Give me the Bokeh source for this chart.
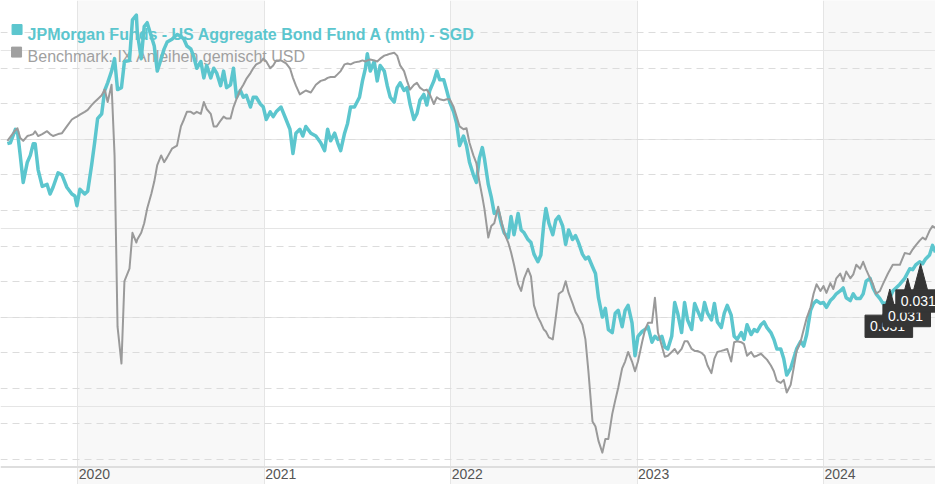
from bokeh.plotting import figure
from bokeh.models import Range1d, FixedTicker, Span, Grid
from bokeh.core.properties import value
from bokeh.embed import file_html
from bokeh.resources import INLINE

# ---------------- data (decimal years, performance in %) ----------------
dates = [2019.622, 2019.638, 2019.665, 2019.676, 2019.691, 2019.707, 2019.729, 2019.745, 2019.761, 2019.771,
         2019.787, 2019.809, 2019.835, 2019.851, 2019.867, 2019.894, 2019.915, 2019.941, 2019.968, 2019.984,
         2019.995, 2020.011, 2020.037, 2020.053, 2020.074, 2020.090, 2020.106, 2020.128, 2020.144, 2020.160,
         2020.181, 2020.197, 2020.213, 2020.234, 2020.250, 2020.277, 2020.293, 2020.314, 2020.319, 2020.340,
         2020.356, 2020.372, 2020.394, 2020.410, 2020.426, 2020.447, 2020.463, 2020.479, 2020.505, 2020.532,
         2020.553, 2020.569, 2020.585, 2020.606, 2020.622, 2020.638, 2020.660, 2020.676, 2020.691, 2020.713,
         2020.729, 2020.745, 2020.766, 2020.782, 2020.798, 2020.819, 2020.835, 2020.851, 2020.872, 2020.888,
         2020.904, 2020.926, 2020.941, 2020.957, 2020.979, 2020.995, 2021.011, 2021.032, 2021.048, 2021.064,
         2021.090, 2021.117, 2021.138, 2021.154, 2021.170, 2021.191, 2021.207, 2021.223, 2021.250, 2021.277,
         2021.303, 2021.324, 2021.340, 2021.356, 2021.378, 2021.394, 2021.410, 2021.431, 2021.447, 2021.463,
         2021.484, 2021.511, 2021.527, 2021.543, 2021.553, 2021.569, 2021.590, 2021.606, 2021.622, 2021.644,
         2021.660, 2021.676, 2021.697, 2021.713, 2021.729, 2021.750, 2021.766, 2021.782, 2021.803, 2021.819,
         2021.835, 2021.856, 2021.872, 2021.888, 2021.910, 2021.926, 2021.941, 2021.963, 2021.979, 2021.995,
         2022.016, 2022.032, 2022.048, 2022.069, 2022.085, 2022.101, 2022.122, 2022.138, 2022.154, 2022.170,
         2022.181, 2022.202, 2022.218, 2022.234, 2022.255, 2022.271, 2022.287, 2022.309, 2022.324, 2022.340,
         2022.362, 2022.378, 2022.394, 2022.415, 2022.431, 2022.447, 2022.468, 2022.484, 2022.500, 2022.511,
         2022.527, 2022.548, 2022.564, 2022.580, 2022.601, 2022.617, 2022.633, 2022.654, 2022.670, 2022.686,
         2022.707, 2022.723, 2022.739, 2022.761, 2022.777, 2022.793, 2022.814, 2022.830, 2022.846, 2022.867,
         2022.883, 2022.899, 2022.920, 2022.936, 2022.952, 2022.973, 2022.989, 2023.005, 2023.027, 2023.043,
         2023.059, 2023.080, 2023.096, 2023.112, 2023.133, 2023.149, 2023.165, 2023.186, 2023.202, 2023.218,
         2023.239, 2023.255, 2023.271, 2023.293, 2023.309, 2023.324, 2023.346, 2023.362, 2023.378, 2023.399,
         2023.415, 2023.431, 2023.452, 2023.468, 2023.484, 2023.505, 2023.521, 2023.537, 2023.559, 2023.574,
         2023.590, 2023.612, 2023.628, 2023.644, 2023.665, 2023.681, 2023.697, 2023.718, 2023.734, 2023.750,
         2023.771, 2023.787, 2023.803, 2023.824, 2023.840, 2023.856, 2023.878, 2023.894, 2023.910, 2023.931,
         2023.947, 2023.963, 2023.984, 2024.000, 2024.016, 2024.037, 2024.053, 2024.069, 2024.090, 2024.106,
         2024.122, 2024.144, 2024.160, 2024.176, 2024.197, 2024.213, 2024.229, 2024.250, 2024.266, 2024.282,
         2024.303, 2024.319, 2024.346, 2024.372, 2024.410, 2024.436, 2024.463, 2024.479, 2024.495, 2024.516,
         2024.532, 2024.548, 2024.569, 2024.585, 2024.601]

fund = [-0.24, -0.19, 0.57, 0.46, -0.90, -2.42, -1.28, -0.90, -0.24, -0.24,
        -1.71, -2.64, -2.53, -3.07, -2.69, -1.88, -1.99, -2.69, -3.07, -3.18,
        -3.73, -2.80, -3.07, -2.91, -1.44, -0.19, 1.17, 1.44, 2.75, 3.18,
        3.84, 4.54, 2.80, 2.91, 4.38, 4.44, 6.72, 6.99, 6.01, 4.54,
        6.34, 6.56, 5.80, 5.25, 3.84, 4.54, 5.09, 5.47, 5.63, 5.90,
        5.80, 5.63, 5.25, 5.09, 4.65, 4.00, 4.38, 3.46, 4.16, 3.46,
        4.00, 3.73, 3.02, 3.84, 2.91, 3.07, 4.00, 2.37, 2.75, 2.37,
        2.48, 1.82, 2.37, 2.37, 1.99, 1.82, 1.12, 1.55, 1.28, 1.55,
        1.82, 1.12, 0.57, -0.79, 0.35, 0.57, 0.19, 0.73, 0.35, 0.19,
        -0.19, -0.63, 0.57, -0.08, 0.35, -0.19, -0.63, 0.35, 0.90, 1.82,
        1.82, 2.37, 3.29, 4.00, 4.82, 3.84, 4.38, 3.29, 4.16, 3.84,
        3.02, 2.37, 2.10, 2.91, 3.18, 2.75, 2.91, 1.99, 1.12, 1.44,
        2.20, 2.53, 1.93, 2.75, 3.29, 3.84, 3.35, 3.35, 2.75, 2.10,
        1.55, 0.90, -0.35, 0.19, -0.35, -1.28, -1.99, -2.42, -1.06, -0.46,
        -1.06, -2.53, -3.24, -4.16, -4.00, -4.71, -5.25, -5.52, -4.33, -5.36,
        -4.16, -5.09, -5.25, -5.63, -5.80, -6.45, -6.88, -6.50, -4.71, -3.89,
        -4.71, -5.36, -4.54, -4.33, -4.87, -5.90, -5.09, -5.63, -5.41, -5.80,
        -6.45, -6.72, -6.61, -7.16, -7.54, -8.90, -9.99, -9.50, -10.69, -10.86,
        -9.77, -9.61, -10.53, -9.61, -9.33, -10.31, -12.16, -11.07, -10.80, -10.69,
        -10.53, -11.40, -11.07, -11.24, -11.07, -11.67, -11.78, -11.07, -9.17, -9.77,
        -10.86, -9.17, -10.15, -10.69, -9.22, -9.61, -10.15, -9.17, -9.77, -10.15,
        -9.22, -10.26, -10.58, -9.77, -9.33, -9.88, -11.07, -11.24, -10.86, -11.24,
        -10.42, -10.97, -10.69, -10.80, -10.42, -10.26, -10.58, -10.86, -11.24, -11.78,
        -11.78, -12.33, -13.25, -12.87, -12.33, -11.78, -11.35, -11.62, -10.97, -9.61,
        -9.22, -9.06, -9.22, -9.17, -9.44, -9.06, -8.90, -8.68, -8.52, -8.35,
        -8.90, -9.06, -8.68, -8.95, -8.95, -8.68, -7.97, -7.81, -8.35, -8.68,
        -8.95, -9.22, -9.17, -8.52, -8.14, -7.81, -7.27, -7.32, -7.05, -6.88,
        -6.99, -6.72, -6.50, -5.96, -6.34]

bench = [-0.08, 0.14, 0.52, 0.63, 0.08, -0.08, 0.19, 0.24, 0.30, 0.46,
         0.19, 0.30, 0.46, 0.30, 0.19, 0.30, 0.35, 0.73, 1.12, 1.22,
         1.28, 1.39, 1.55, 1.66, 1.93, 2.10, 2.26, 2.48, 2.80, 2.10,
         3.07, -0.90, -10.53, -12.60, -7.97, -7.27, -5.25, -5.80, -5.63, -5.25,
         -4.71, -3.89, -3.07, -2.37, -1.44, -0.90, -1.28, -1.01, -0.52, -0.35,
         0.73, 1.12, 1.55, 1.55, 1.44, 1.55, 1.44, 2.10, 1.71, 1.44,
         0.73, 0.73, 1.06, 1.28, 1.17, 1.17, 1.82, 2.26, 2.80, 3.07,
         3.40, 3.73, 4.00, 4.22, 4.33, 4.54, 4.38, 4.00, 4.16, 4.44,
         4.44, 4.27, 4.00, 3.46, 3.02, 2.53, 2.64, 2.75, 2.64, 3.07,
         3.29, 3.35, 3.46, 3.51, 3.51, 3.67, 3.84, 4.22, 4.27, 4.22,
         4.33, 4.38, 4.44, 4.38, 4.44, 4.49, 4.44, 4.38, 4.54, 4.71,
         4.76, 4.82, 4.87, 4.71, 4.16, 3.84, 3.29, 2.80, 3.07, 3.18,
         2.91, 2.75, 2.80, 2.53, 1.99, 2.37, 2.26, 2.20, 2.26, 2.26,
         1.82, 1.28, 0.73, 0.57, 0.63, -0.19, -0.90, -1.33, -2.37, -3.24,
         -3.89, -5.52, -4.87, -4.71, -3.78, -4.54, -5.25, -5.80, -6.34, -7.05,
         -8.14, -8.52, -7.81, -7.27, -7.70, -9.33, -9.99, -10.31, -10.69, -10.80,
         -11.13, -11.24, -9.99, -8.68, -8.52, -7.97, -8.63, -9.22, -9.71, -9.99,
         -10.42, -11.24, -13.03, -15.86, -16.14, -16.95, -17.61, -16.84, -16.84, -15.43,
         -14.67, -13.96, -12.87, -12.49, -11.95, -12.49, -13.03, -12.49, -11.40, -10.69,
         -10.31, -10.31, -8.90, -10.86, -11.62, -12.22, -12.16, -11.95, -11.78, -12.05,
         -11.78, -11.35, -11.35, -11.78, -11.89, -11.89, -12.00, -12.16, -12.71, -13.14,
         -12.33, -11.95, -11.89, -11.84, -11.78, -12.49, -11.40, -11.35, -11.40, -11.51,
         -12.16, -11.95, -12.22, -12.16, -12.05, -12.22, -12.38, -12.71, -13.03, -13.58,
         -13.69, -13.52, -14.23, -13.80, -12.87, -11.89, -11.35, -10.69, -10.04, -9.44,
         -8.68, -8.14, -8.52, -8.24, -8.63, -8.08, -8.41, -7.81, -7.54, -7.97,
         -7.43, -7.81, -7.59, -7.05, -7.27, -6.88, -7.32, -7.81, -8.14, -8.68,
         -8.52, -8.14, -7.54, -7.05, -7.05, -6.39, -6.45, -6.18, -5.96, -5.69,
         -5.52, -5.63, -5.14, -4.87, -4.98]

year_ticks = [2020, 2021, 2022, 2023, 2024]
year_labels = ["2020", "2021", "2022", "2023", "2024"]
shaded_years = [2020, 2022, 2024]
grid_values = [-18, -16, -14, -12, -10, -8, -6, -4, -2, 0, 2, 4, 6]

flag_dates = [2024.356, 2024.452, 2024.521]
flag_levels = [-8.41, -7.81, -6.99]
flag_texts = ["0.031", "0.031", "0.031"]

fund_name = "JPMorgan Funds - US Aggregate Bond Fund A (mth) - SGD"
bench_name = "Benchmark: IX Anleihen gemischt USD"

# ---------------- styling / layout ----------------
TEAL = "#5cc6ce"
GREY = "#9a9a9a"
FONT = value("Liberation Sans")

W, H = 935, 484
X0, X1 = 2019.5851, 2024.6011
Y0, Y1 = -19.4014, 7.8095
UX = 188.0    # layout units per year (design grid)
UY = 18.375   # layout units per %


def sx(u):  # design-grid offset from left -> data x
    return X0 + u / UX


def sy(u):  # design-grid offset from top -> data y
    return Y1 - u / UY


p = figure(width=W, height=H, x_range=Range1d(X0, X1), y_range=Range1d(Y0, Y1),
           output_backend="svg", toolbar_location=None,
           x_axis_location=None, y_axis_location=None, min_border=0)
p.outline_line_color = None
p.background_fill_color = "white"
p.border_fill_color = "white"

# alternating year shading
p.quad(left=shaded_years, right=[y + 1 for y in shaded_years], top=Y1 + 1, bottom=Y0 - 1,
       fill_color="#f8f8f8", line_color=None, level="underlay")

p.add_layout(Grid(dimension=1, ticker=FixedTicker(ticks=grid_values),
                  grid_line_color="#dcdcdc", grid_line_dash="7 5", grid_line_width=1))

# axis line + year labels
p.add_layout(Span(location=sy(482), dimension="width", line_color="#dedede", line_width=2))
p.text(x=year_ticks, y=[sy(484)] * len(year_ticks), text=year_labels, text_font=FONT,
       text_font_size="14px", text_color="#555555", text_align="left", text_baseline="top",
       x_offset=1)

# legend (drawn beneath the series)
p.scatter(x=[sx(16.7)], y=[sy(30)], marker="square", size=10, color=TEAL)
p.scatter(x=[sx(16.2)], y=[sy(53.3)], marker="square", size=10, color="#a0a0a0")
p.text(x=[sx(27.3)], y=[sy(35)], text=[fund_name], text_font=FONT, text_font_size="16px",
       text_font_style="bold", text_color=TEAL, text_baseline="alphabetic")
p.text(x=[sx(27.3)], y=[sy(58)], text=[bench_name], text_font=FONT, text_font_size="16px",
       text_color="#a0a0a0", text_baseline="alphabetic")

# series
p.line(dates, fund, line_color=TEAL, line_width=3.5, line_join="round")
p.line(dates, bench, line_color=GREY, line_width=2, line_join="round")

# dividend flags
for t, lv, txt in zip(flag_dates, flag_levels, flag_texts):
    top = lv - 27 / UY
    bottom = top - 23 / UY
    left = t - 25 / UX
    right = left + 48 / UX
    p.quad(left=[left], right=[right], top=[top], bottom=[bottom], fill_color="#353535",
           line_color="#353535", line_width=1)
    p.patch(x=[t - 7 / UX, t + 7 / UX, t], y=[top, top, lv], fill_color="#353535",
            line_color="#353535", line_width=1)
    p.text(x=[left + 5 / UX], y=[(top + bottom) / 2], text=[txt], text_font=FONT,
           text_font_size="14px", text_color="white", text_baseline="middle")

open("out.html", "w").write(file_html(p, INLINE))
